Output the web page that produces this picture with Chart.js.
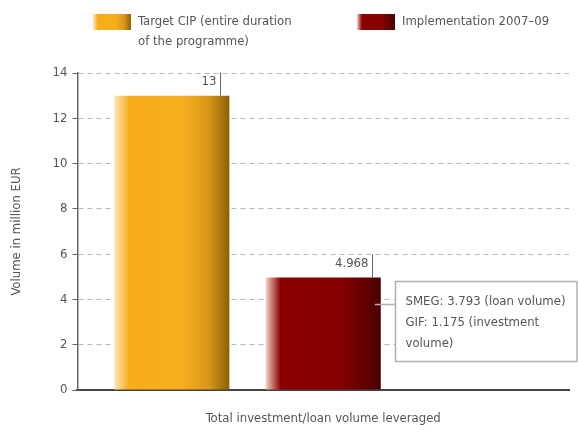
<!DOCTYPE html>
<html>
<head>
<meta charset="utf-8">
<script src="https://cdn.jsdelivr.net/npm/chart.js@4/dist/chart.umd.min.js"></script>
<style>
  body { margin: 0; background: #fff; }
</style>
</head>
<body>
<canvas id="cip-chart" width="578" height="430"></canvas>
<script>
// data
const categories = ["Total investment/loan volume leveraged"];
const targetValues = [13];
const implementationValues = [4.968];
const valueLabels = ["13", "4.968"];
const legendLines = [
  ["Target CIP (entire duration", "of the programme)"],
  ["Implementation 2007–09"],
];
const breakdownValues = [3.793, 1.175]; // SMEG, GIF
const breakdownLines = ["SMEG: 3.793 (loan volume)", "GIF: 1.175 (investment", "volume)"];
const yMin = 0;
const yMax = 14;
const yStep = 2;

const FONT = "'Liberation Sans Narrow', 'DejaVu Sans Condensed', sans-serif";
const TEXT = "#555";
const CAT_PCT = 0.924;
const BAR_PCT = 0.76;

const goldStops = [[0, "#fde7bd"], [0.13, "#f7ad1a"], [0.6, "#f6ae1c"], [0.82, "#d8971a"], [1, "#8a6306"]];
const redStops = [[0, "#f5d4c6"], [0.13, "#8a0000"], [0.65, "#860000"], [1, "#4a0000"]];

function makeGradient(ctx, x0, x1, stops) {
  const g = ctx.createLinearGradient(x0, 0, x1, 0);
  stops.forEach((s) => g.addColorStop(s[0], s[1]));
  return g;
}

// gradient follows the bar slot computed from the x scale
function barGradient(stops) {
  return function (context) {
    const chart = context.chart;
    const xs = chart.scales.x;
    if (!xs || !chart.chartArea) return stops[1][1];
    const slot = (xs.width * CAT_PCT) / 3;
    const center = xs.getPixelForValue(context.dataIndex) + (context.datasetIndex - 1) * slot;
    const half = (slot * BAR_PCT) / 2;
    return makeGradient(chart.ctx, center - half, center + half, stops);
  };
}

// legend, value labels and the breakdown box
const overlayPlugin = {
  id: "overlay",
  afterDraw(chart) {
    const ctx = chart.ctx;
    ctx.save();

    // legend
    const swatchX = [93, 357];
    const swatchStops = [goldStops, redStops];
    ctx.font = "13px " + FONT;
    ctx.textAlign = "left";
    ctx.textBaseline = "middle";
    legendLines.forEach((lines, i) => {
      ctx.fillStyle = makeGradient(ctx, swatchX[i], swatchX[i] + 38, swatchStops[i]);
      ctx.fillRect(swatchX[i], 14, 38, 16);
      ctx.fillStyle = TEXT;
      lines.forEach((line, j) => ctx.fillText(line, swatchX[i] + 45, 22 + j * 20));
    });

    // value labels with leader ticks
    ctx.font = "13px " + FONT;
    ctx.strokeStyle = "#666";
    ctx.lineWidth = 1;
    ctx.textAlign = "right";
    [0, 1].forEach((i) => {
      const bar = chart.getDatasetMeta(i).data[0];
      const lx = Math.round(bar.x + bar.width / 2 - 9) + 0.5;
      ctx.beginPath();
      ctx.moveTo(lx, bar.y);
      ctx.lineTo(lx, bar.y - 23);
      ctx.stroke();
      ctx.fillText(valueLabels[i], lx - 4, bar.y - 14);
    });

    // breakdown box
    const red = chart.getDatasetMeta(1).data[0];
    const ly = Math.round(chart.scales.y.getPixelForValue(breakdownValues[0])) + 0.5;
    const redRight = red.x + red.width / 2;
    const bx = Math.round(redRight + 14) + 0.5;
    const by = ly - 23;
    const bw = chart.width - bx - 1;
    ctx.strokeStyle = "#b0b0b0";
    ctx.lineWidth = 1.5;
    ctx.beginPath();
    ctx.moveTo(redRight - 6, ly);
    ctx.lineTo(bx, ly);
    ctx.stroke();
    ctx.fillStyle = "#fff";
    ctx.fillRect(bx, by, bw, 80);
    ctx.strokeRect(bx, by, bw, 80);
    ctx.textAlign = "left";
    ctx.fillStyle = TEXT;
    breakdownLines.forEach((line, j) => ctx.fillText(line, bx + 10, by + 20 + j * 21));

    ctx.restore();
  },
};

new Chart(document.getElementById("cip-chart"), {
  type: "bar",
  data: {
    labels: categories,
    datasets: [
      {
        label: legendLines[0].join(" "),
        data: targetValues,
        backgroundColor: barGradient(goldStops),
      },
      {
        label: legendLines[1].join(" "),
        data: implementationValues,
        backgroundColor: barGradient(redStops),
      },
      {
        // empty slot to the right of the bars, where the breakdown sits
        label: "",
        data: [null],
      },
    ],
  },
  options: {
    responsive: false,
    animation: false,
    categoryPercentage: CAT_PCT,
    barPercentage: BAR_PCT,
    layout: { padding: { top: 73, right: 9, left: 9, bottom: 0 } },
    plugins: {
      legend: { display: false },
      tooltip: { enabled: false },
    },
    scales: {
      x: {
        grid: { display: false, drawTicks: false },
        border: { color: "#444", width: 2 },
        ticks: { color: TEXT, font: { family: FONT, size: 13 }, padding: 21 },
        afterFit(scale) {
          scale.height = 40;
        },
      },
      y: {
        min: yMin,
        max: yMax,
        ticks: { stepSize: yStep, color: TEXT, font: { family: FONT, size: 13 }, padding: 5 },
        grid: { color: "#b8b8b8", tickColor: "#666", tickLength: 5, tickBorderDash: [] },
        border: { color: "#666", width: 1.5, dash: [5, 4] },
        title: {
          display: true,
          text: "Volume in million EUR",
          color: TEXT,
          font: { family: FONT, size: 13 },
          padding: { top: 0, bottom: 23 },
        },
      },
    },
  },
  plugins: [overlayPlugin],
});
</script>
</body>
</html>
